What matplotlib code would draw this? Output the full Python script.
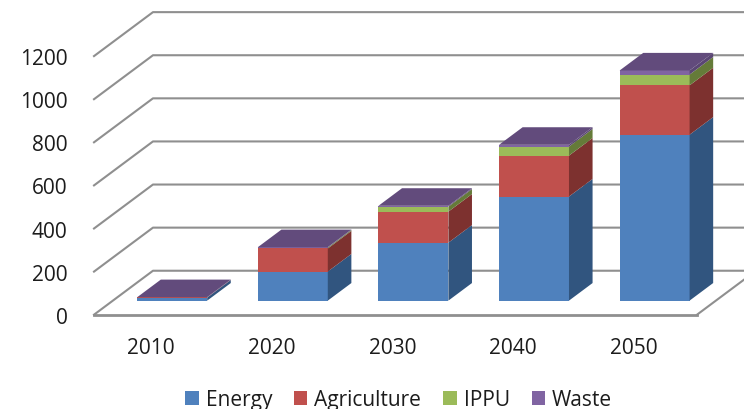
import numpy as np
import matplotlib
matplotlib.use("Agg")
import matplotlib.pyplot as plt
from matplotlib.transforms import ScaledTranslation

years = ["2010", "2020", "2030", "2040", "2050"]
energy = [14, 135, 269, 483, 770]
agriculture = [1, 107, 144, 190, 229]
ippu = [0, 4, 23, 42, 50]
waste = [1, 2, 4, 8, 19]
y_ticks = [0, 200, 400, 600, 800, 1000, 1200]

series = [
    ("Energy", energy, "#4F81BD", "#31557F"),
    ("Agriculture", agriculture, "#C0504D", "#7D312F"),
    ("IPPU", ippu, "#9BBB59", "#657B39"),
    ("Waste", waste, "#8064A2", "#5A4674"),
]
top_color = "#624B7C"
grid_color = "#8F8F8F"

# oblique projection of the 3d box, one depth unit is the full floor depth
depth_x = 0.489
depth_y = 204
bar_front = 0.32
bar_back = 0.72
bar_width = 0.58
bar_shift = -0.008

plt.rcParams["font.family"] = ["Open Sans", "DejaVu Sans"]

W, H = 744, 410
fig = plt.figure(figsize=(W / 100, H / 100), dpi=100)
ax = fig.add_axes([94 / W, 1 - 315.7 / H, 603 / W, 258.6 / H])
ax.set_xlim(-0.5, 4.5)
ax.set_ylim(0, 1200)


def project(x, y, depth):
    return x + depth * depth_x, y + depth * depth_y


# walls and floor
x_left, x_right = ax.get_xlim()
for tick in y_ticks:
    bx, by = project(x_left, tick, 1)
    ex, _ = project(x_right, tick, 1)
    ax.plot([x_left, bx, ex], [tick, by, by], color=grid_color, lw=1.5, zorder=1, clip_on=False)
ax.plot([x_left, x_right], [0, 0], color=grid_color, lw=2, zorder=1, clip_on=False)
bx, by = project(x_right, 0, 1)
ax.plot([x_right, bx], [0, by], color=grid_color, lw=1.5, zorder=1, clip_on=False)

# stacked boxes
positions = np.arange(len(years))
centers = positions + bar_shift
bottoms = np.zeros(len(years))
handles = []
for label, values, front, side in series:
    values = np.array(values, dtype=float)
    fx, fy = project(centers, bottoms, bar_front)
    bars = ax.bar(fx, values, bottom=fy, width=bar_width, color=front, label=label,
                  linewidth=0, zorder=3, clip_on=False)
    handles.append(bars)
    for x, low, high in zip(centers, bottoms, bottoms + values):
        right = x + bar_width / 2
        corners = [project(right, low, bar_front), project(right, low, bar_back),
                   project(right, high, bar_back), project(right, high, bar_front)]
        ax.fill(*zip(*corners), color=side, lw=0, zorder=3, clip_on=False)
    bottoms = bottoms + values

# purple lid on top of every stack
for x, total in zip(centers, bottoms):
    left, right = x - bar_width / 2, x + bar_width / 2
    corners = [project(left, total, bar_front), project(right, total, bar_front),
               project(right, total, bar_back), project(left, total, bar_back)]
    ax.fill(*zip(*corners), color=top_color, lw=0, zorder=4, clip_on=False)

for spine in ax.spines.values():
    spine.set_visible(False)
ax.patch.set_visible(False)
ax.set_xticks(positions, years)
ax.set_yticks(y_ticks)
ax.tick_params(axis="both", length=0, labelsize=15, labelcolor="#1c1c1c")
ax.tick_params(axis="x", pad=16)
ax.tick_params(axis="y", pad=19)

# year labels sit a little left of the category centres
nudge = ScaledTranslation(-3 / 100, 0, fig.dpi_scale_trans)
for tick_label in ax.get_xticklabels():
    tick_label.set_transform(tick_label.get_transform() + nudge)

fig.legend(handles=handles, loc="center", bbox_to_anchor=(0.536, 0.022), ncol=4,
           frameon=False, fontsize=15, handlelength=0.63, handleheight=0.63,
           handletextpad=0.34, columnspacing=1.06, labelcolor="#1c1c1c",
           borderpad=0, borderaxespad=0)

fig.savefig("out.png", dpi=100)
